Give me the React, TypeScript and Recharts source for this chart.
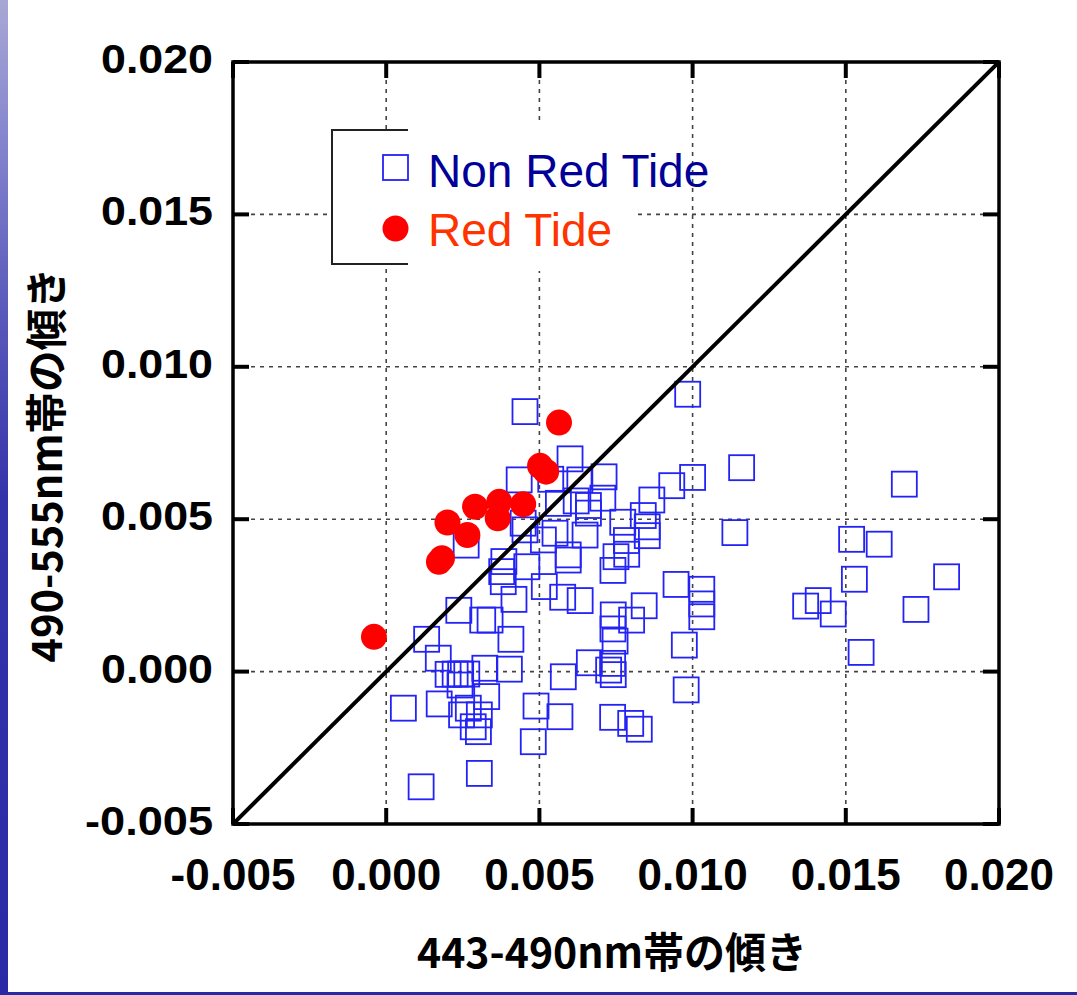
import React from 'react';
import { ScatterChart, Scatter, XAxis, YAxis, CartesianGrid, ReferenceArea, Legend } from 'recharts';

// ---- data ----
const AXIS_TICKS = [-0.005, 0, 0.005, 0.01, 0.015, 0.02];
const X_TITLE = '443-490nm帯の傾き';
const Y_TITLE = '490-555nm帯の傾き';
const SERIES_NAMES = ['Non Red Tide', 'Red Tide'];

const nonRedTide: [number, number][] = [
  [0.00984, 0.0091], [0.0116, 0.00669], [0.01691, 0.00615], [0.01, 0.00637], [0.00932, 0.0061],
  [0.00867, 0.00563], [0.00839, 0.00512], [0.00852, 0.00475], [0.00852, 0.00446], [0.00772, 0.0049],
  [0.00784, 0.0043], [0.00785, 0.00385], [0.0075, 0.00377], [0.0074, 0.00332], [0.01138, 0.00456],
  [0.01519, 0.00434], [0.01609, 0.00418], [0.01829, 0.00311], [0.01528, 0.00303], [0.00946, 0.00286],
  [0.0103, 0.0027], [0.0103, 0.00222], [0.0103, 0.0018], [0.01369, 0.00215], [0.0141, 0.00233],
  [0.01459, 0.00189], [0.01729, 0.00204], [0.00842, 0.00216], [0.00801, 0.00169], [0.00741, 0.00186],
  [0.0074, 0.0014], [0.00747, 0.001], [0.00973, 0.00087], [0.0155, 0.00063], [0.00979, -0.0006],
  [0.00453, 0.00853], [0.006, 0.00698], [0.00537, 0.00631], [0.00632, 0.00629], [0.00711, 0.00639],
  [0.00707, 0.00569], [0.0066, 0.00545], [0.00562, 0.00552], [0.00649, 0.00448], [0.00551, 0.00454],
  [0.00594, 0.00383], [0.00594, 0.00366], [0.00434, 0.00629], [0.00447, 0.00487], [0.00453, 0.00465],
  [0.00513, 0.00432], [0.00261, 0.00415], [0.00384, 0.00361], [0.00377, 0.00328], [0.00459, 0.00344],
  [0.00382, 0.00295], [0.00417, 0.00237], [0.00237, 0.00201], [0.00315, 0.00169], [0.00339, 0.00169],
  [0.00407, 0.00106], [0.00132, 0.00106], [0.0017, 0.00044], [0.00202, -0.00009], [0.00225, -0.00008],
  [0.00243, -0.00008], [0.00263, -0.00008], [0.00322, 0.00011], [0.00402, 0.00008], [0.00241, -0.00044],
  [0.00328, -0.00082], [0.00056, -0.0012], [0.00173, -0.00106], [0.00268, -0.0012], [0.00246, -0.00142],
  [0.00304, -0.00142], [0.00284, -0.00181], [0.00301, -0.00197], [0.00489, -0.00113], [0.0048, -0.0023],
  [0.00304, -0.00334], [0.00114, -0.00378], [0.00567, -0.00148], [0.00516, 0.00279], [0.00576, 0.00244],
  [0.00633, 0.00233], [0.00578, -0.00017], [0.00663, 0.00029], [0.00739, 0.00027], [0.00741, -0.0001],
  [0.00726, 0.00005], [0.00739, -0.0015], [0.00798, -0.0017], [0.00826, -0.00189], [0.0066, 0.0052],
  [0.0062, 0.0056],
];

const redTide: [number, number][] = [
  [-0.0004, 0.00114], [0.00172, 0.0036], [0.00182, 0.00372], [0.002, 0.00489], [0.00265, 0.00448],
  [0.0029, 0.00541], [0.00364, 0.00503], [0.00369, 0.00557], [0.00447, 0.00549], [0.00502, 0.00675],
  [0.00522, 0.00656], [0.00564, 0.00817],
];

const oneToOneLine: [number, number][] = [[-0.005, -0.005], [0.02, 0.02]];

// ---- layout constants ----
const W = 1077;
const H = 995;
const PLOT_LEFT = 233;
const PLOT_RIGHT = 999;
const PLOT_TOP = 62;
const PLOT_BOTTOM = 824;
const TICK_LEN = 16;
const BLUE = '#2323f5';
const RED = '#ff0000';

const toPoints = (arr: [number, number][]) => arr.map(([x, y]) => ({ x, y }));
const fmt = (v: number) => v.toFixed(3);

const XTick = (props: any) => {
  const { x, payload } = props;
  const label = fmt(payload.value);
  return (
    <g>
      <line x1={x} x2={x} y1={PLOT_BOTTOM} y2={PLOT_BOTTOM - TICK_LEN} stroke="#000" strokeWidth={4} />
      <line x1={x} x2={x} y1={PLOT_TOP} y2={PLOT_TOP + TICK_LEN} stroke="#000" strokeWidth={4} />
      <text x={x} y={890} textAnchor="middle" fontFamily="'Liberation Sans', Arial, sans-serif" fontWeight="bold" fontSize={44} fill="#000">
        {label}
      </text>
    </g>
  );
};

const YTick = (props: any) => {
  const { y, payload } = props;
  const label = fmt(payload.value);
  return (
    <g>
      <line x1={PLOT_LEFT} x2={PLOT_LEFT + TICK_LEN} y1={y} y2={y} stroke="#000" strokeWidth={4} />
      <line x1={PLOT_RIGHT - TICK_LEN} x2={PLOT_RIGHT} y1={y} y2={y} stroke="#000" strokeWidth={4} />
      <text
        x={213}
        y={y + 11}
        textAnchor="end"
        fontFamily="'Liberation Sans', Arial, sans-serif"
        fontWeight="bold"
        fontSize={40}
        fill="#000"
        textLength={label.length > 5 ? 128 : 112}
        lengthAdjust="spacingAndGlyphs"
      >
        {label}
      </text>
    </g>
  );
};

const SquareShape = (props: any) => {
  const { cx, cy } = props;
  if (cx == null || cy == null) return <g />;
  return <rect x={cx - 12.5} y={cy - 12.5} width={25} height={25} fill="none" stroke={BLUE} strokeWidth={1.8} />;
};

const DotShape = (props: any) => {
  const { cx, cy } = props;
  if (cx == null || cy == null) return <g />;
  return <circle cx={cx} cy={cy} r={13} fill={RED} />;
};

const NoShape = () => <g />;

const LegendContent = () => (
  <svg width={420} height={150} style={{ display: 'block', overflow: 'visible' }}>
    <rect x={1} y={6} width={80} height={134} fill="#fff" />
    <rect x={77} y={0} width={229} height={147} fill="#fff" />
    <path d="M 77 6 H 1 V 140 H 77" fill="none" stroke="#222" strokeWidth={2} />
    <rect x={52} y={31} width={25} height={25} fill="none" stroke={BLUE} strokeWidth={1.8} />
    <circle cx={64.5} cy={104.5} r={13} fill={RED} />
    <text x={97} y={63} fontFamily="'Liberation Sans', Arial, sans-serif" fontSize={46} fill="#000099">
      {SERIES_NAMES[0]}
    </text>
    <text x={97} y={122} fontFamily="'Liberation Sans', Arial, sans-serif" fontSize={46} fill="#ff3300">
      {SERIES_NAMES[1]}
    </text>
  </svg>
);

const XTitle = () => (
  <text
    x={612}
    y={968}
    textAnchor="middle"
    fontFamily="'Noto Sans CJK JP', sans-serif"
    fontWeight="bold"
    fontSize={42}
    fill="#000"
    textLength={390}
    lengthAdjust="spacingAndGlyphs"
  >
    {X_TITLE}
  </text>
);

const YTitle = () => (
  <text
    x={62}
    y={465}
    transform="rotate(-90, 62, 465)"
    textAnchor="middle"
    fontFamily="'Noto Sans CJK JP', sans-serif"
    fontWeight="bold"
    fontSize={42}
    fill="#000"
    textLength={395}
    lengthAdjust="spacingAndGlyphs"
  >
    {Y_TITLE}
  </text>
);

export default function App() {
  return (
    <div style={{ position: 'absolute', left: 0, top: 0, width: W, height: H, background: '#fff', overflow: 'hidden' }}>
      <div
        style={{
          position: 'absolute',
          left: 0,
          top: 0,
          width: 8,
          height: H,
          background: 'linear-gradient(to bottom, #a8a8d4 0%, #8a8ad0 12%, #5c5cbc 30%, #3434aa 50%, #2a2aa6 100%)',
        }}
      />
      <div style={{ position: 'absolute', left: 0, top: H - 3, width: W, height: 3, background: '#2a2aa6' }} />
      <div style={{ position: 'absolute', left: 0, top: 0 }}>
        <ScatterChart width={W} height={H} margin={{ top: PLOT_TOP, right: W - PLOT_RIGHT, bottom: 111, left: 113 }}>
          <CartesianGrid stroke="#444" strokeWidth={1.6} strokeDasharray="4 5" />
          <XAxis
            type="number"
            dataKey="x"
            domain={[-0.005, 0.02]}
            ticks={AXIS_TICKS}
            interval={0}
            height={60}
            allowDataOverflow
            axisLine={false}
            tickLine={false}
            tick={(p: any) => <XTick {...p} />}
            label={() => <XTitle />}
          />
          <YAxis
            type="number"
            dataKey="y"
            domain={[-0.005, 0.02]}
            ticks={AXIS_TICKS}
            interval={0}
            width={120}
            allowDataOverflow
            axisLine={false}
            tickLine={false}
            tick={(p: any) => <YTick {...p} />}
            label={() => <YTitle />}
          />
          <ReferenceArea x1={-0.005} x2={0.02} y1={-0.005} y2={0.02} fill="none" fillOpacity={0} stroke="#000" strokeWidth={3.5} />
          <Scatter name={SERIES_NAMES[0]} data={toPoints(nonRedTide)} shape={SquareShape} isAnimationActive={false} />
          <Scatter
            name="1:1"
            data={toPoints(oneToOneLine)}
            line={{ stroke: '#000', strokeWidth: 4 }}
            shape={NoShape}
            legendType="none"
            isAnimationActive={false}
          />
          <Scatter name={SERIES_NAMES[1]} data={toPoints(redTide)} shape={DotShape} isAnimationActive={false} />
          <Legend
            layout="vertical"
            align="center"
            verticalAlign="middle"
            content={() => <LegendContent />}
            wrapperStyle={{ position: 'absolute', left: 331, top: 124, width: 420, height: 150, bottom: 'auto', right: 'auto' }}
          />
        </ScatterChart>
      </div>
    </div>
  );
}
